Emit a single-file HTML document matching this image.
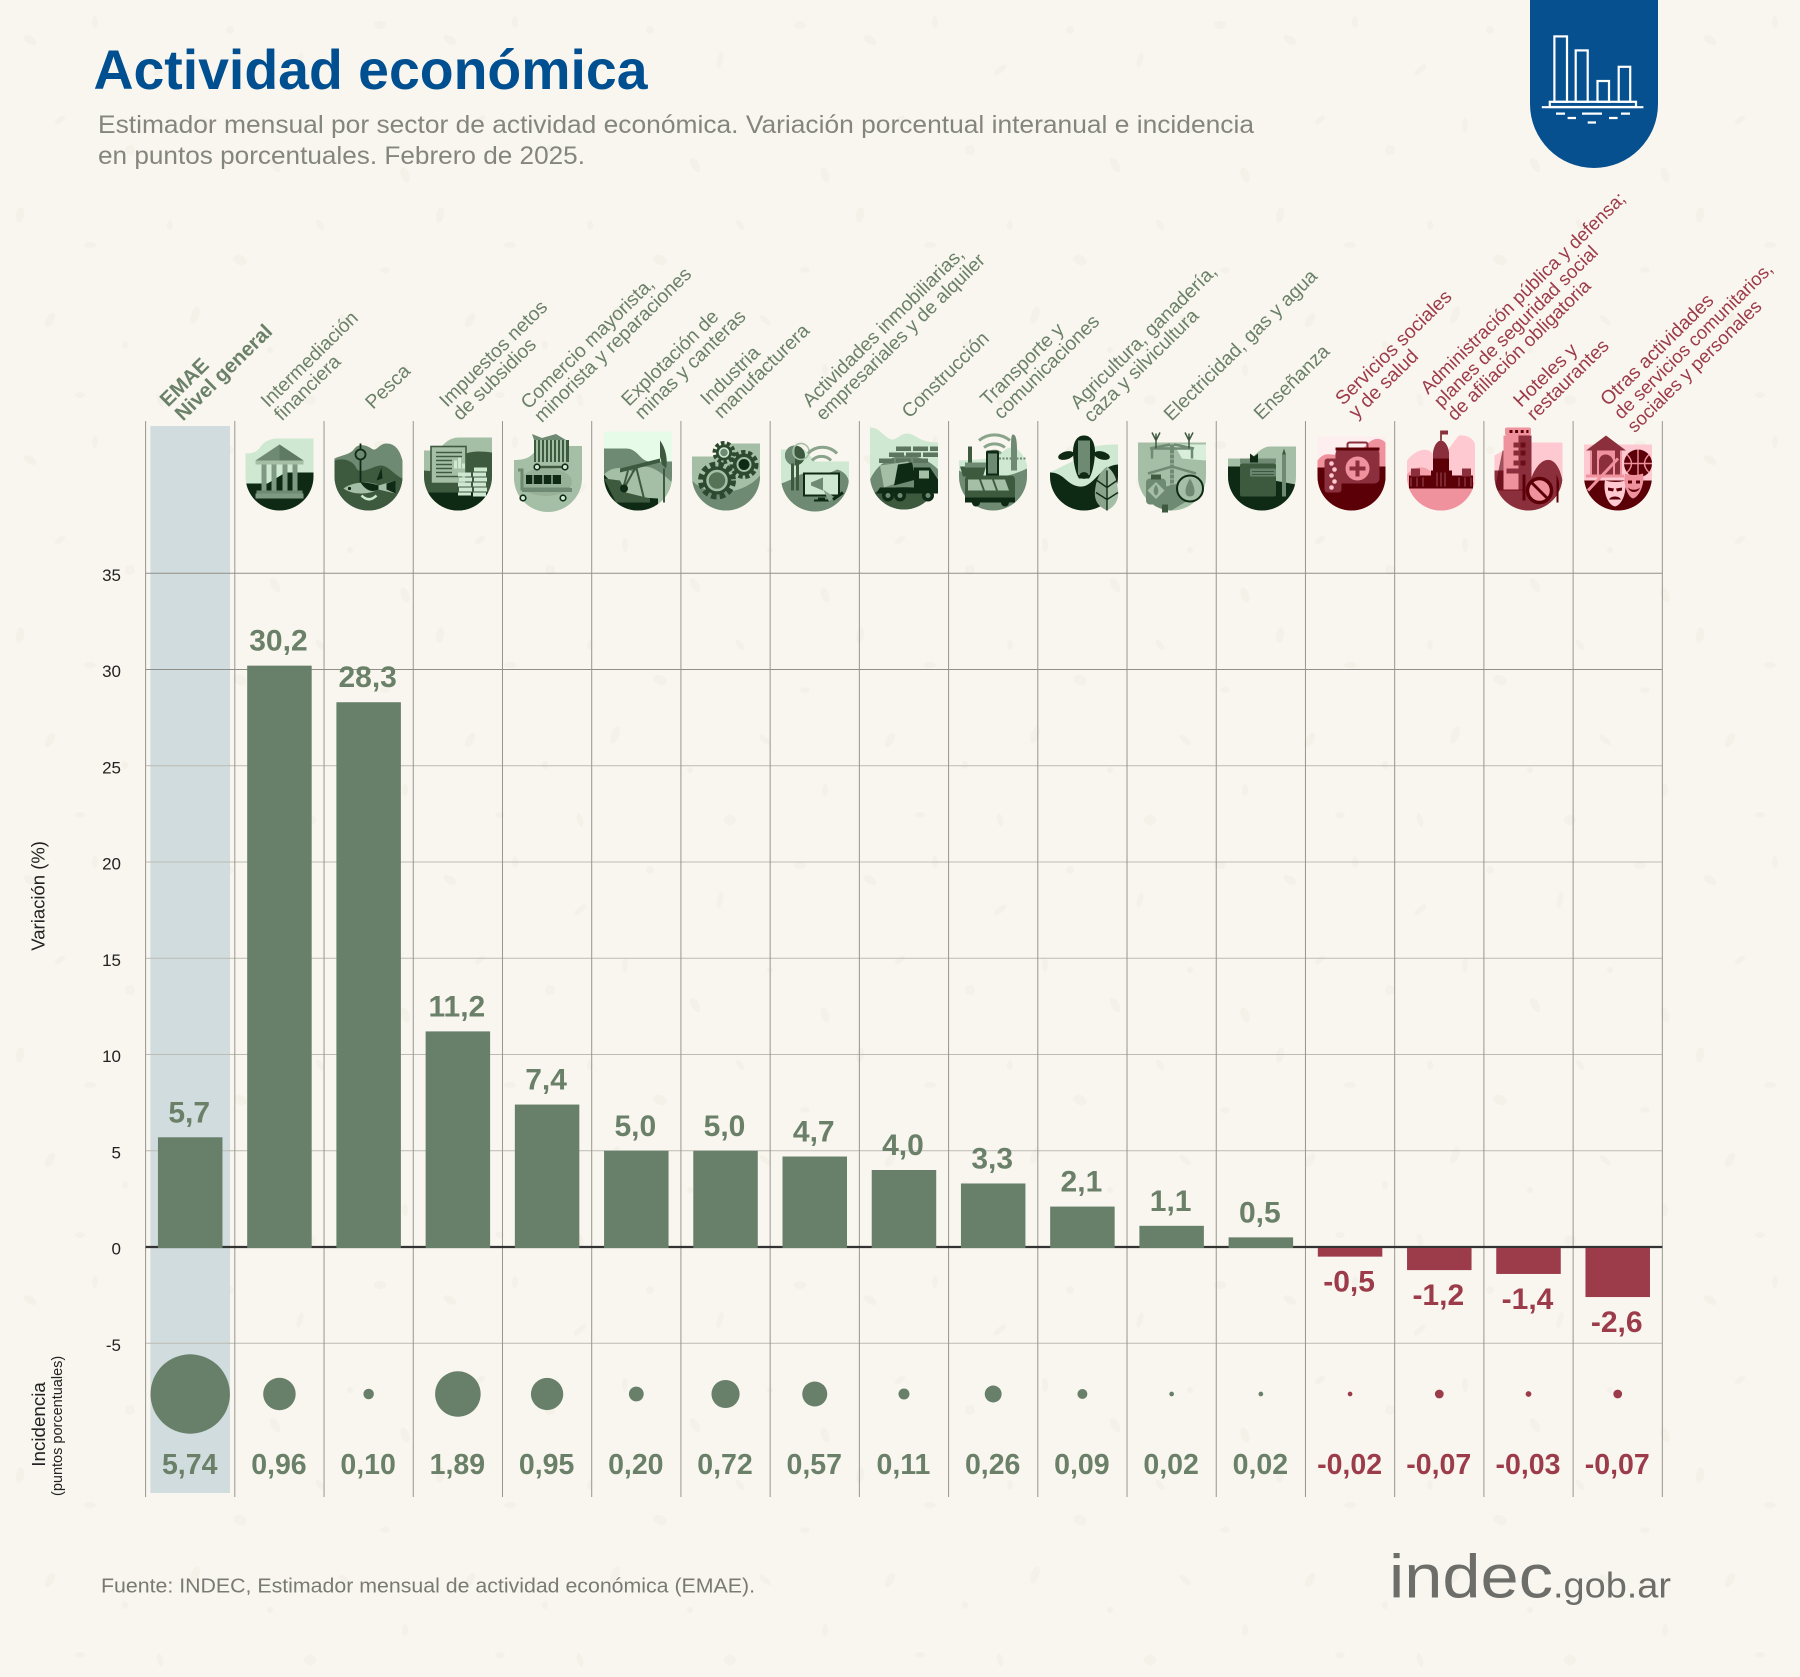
<!DOCTYPE html>
<html lang="es">
<head>
<meta charset="utf-8">
<title>Actividad económica</title>
<style>
html,body{margin:0;padding:0;background:#f9f6ef}
svg{display:block;font-family:"Liberation Sans",sans-serif}
.D{fill:#0f2a14}.d{fill:#3d5a3f}.m{fill:#6f8a72}.l{fill:#a5bfa6}.p{fill:#cfe8d2}.P{fill:#e6fbe8}
.rD{fill:#5c0008}.rd{fill:#8c2f3c}.rm{fill:#ef929e}.rl{fill:#ffc9d1}.rp{fill:#ffeef0}
.cat{font-size:19.4px;fill:#6a8068}
.catr{font-size:19.4px;fill:#9c3b4a}
</style>
</head>
<body>
<svg id="chart" xmlns="http://www.w3.org/2000/svg" width="1800" height="1677" viewBox="0 0 1800 1677">
<defs>
<clipPath id="shield"><path d="M-34,-100H34V-34A34,34 0 0 1 -34,-34Z"/></clipPath>
<pattern id="speckle" width="420" height="420" patternUnits="userSpaceOnUse">
<g fill="#f4f1e9">
<ellipse cx="30" cy="40" rx="7" ry="4" transform="rotate(30 30 40)"/><ellipse cx="95" cy="22" rx="3" ry="6"/>
<ellipse cx="160" cy="70" rx="8" ry="3" transform="rotate(-40 160 70)"/><ellipse cx="230" cy="30" rx="4" ry="4"/>
<ellipse cx="300" cy="60" rx="3" ry="8" transform="rotate(15 300 60)"/><ellipse cx="380" cy="25" rx="6" ry="4"/>
<ellipse cx="60" cy="120" rx="3" ry="6" transform="rotate(50 60 120)"/><ellipse cx="130" cy="150" rx="5" ry="5"/>
<ellipse cx="205" cy="125" rx="3" ry="7"/><ellipse cx="275" cy="165" rx="8" ry="4" transform="rotate(60 275 165)"/>
<ellipse cx="350" cy="130" rx="3" ry="3"/><ellipse cx="405" cy="175" rx="4" ry="8" transform="rotate(-20 405 175)"/>
<ellipse cx="20" cy="215" rx="4" ry="8" transform="rotate(10 20 215)"/><ellipse cx="90" cy="245" rx="6" ry="3"/>
<ellipse cx="170" cy="225" rx="3" ry="5"/><ellipse cx="240" cy="260" rx="7" ry="5" transform="rotate(25 240 260)"/>
<ellipse cx="320" cy="225" rx="3" ry="6" transform="rotate(-35 320 225)"/><ellipse cx="385" cy="270" rx="5" ry="3"/>
<ellipse cx="50" cy="320" rx="8" ry="4" transform="rotate(-60 50 320)"/><ellipse cx="125" cy="345" rx="3" ry="4"/>
<ellipse cx="195" cy="315" rx="4" ry="9" transform="rotate(20 195 315)"/><ellipse cx="270" cy="350" rx="3" ry="3"/>
<ellipse cx="345" cy="320" rx="7" ry="3" transform="rotate(40 345 320)"/><ellipse cx="405" cy="370" rx="3" ry="6"/>
<ellipse cx="80" cy="395" rx="5" ry="3"/><ellipse cx="160" cy="400" rx="3" ry="7" transform="rotate(-15 160 400)"/>
<ellipse cx="310" cy="400" rx="6" ry="5"/>
</g>
</pattern>
</defs>

<rect width="1800" height="1677" fill="#f9f6ef"/>
<rect width="1800" height="1677" fill="url(#speckle)"/>

<text x="93.5" y="89" font-size="55.4" font-weight="700" fill="#004f91" textLength="554" lengthAdjust="spacingAndGlyphs">Actividad económica</text>
<text x="98" y="133" font-size="25" fill="#85857f" textLength="1156" lengthAdjust="spacingAndGlyphs">Estimador mensual por sector de actividad económica. Variación porcentual interanual e incidencia</text>
<text x="98" y="164" font-size="25" fill="#85857f" textLength="487" lengthAdjust="spacingAndGlyphs">en puntos porcentuales. Febrero de 2025.</text>

<g>
<path d="M1530,0H1658V104A64,64 0 0 1 1530,104Z" fill="#07508f"/>
<g fill="none" stroke="#fff" stroke-width="2.2">
<rect x="1554.4" y="36.4" width="12.6" height="65.4"/>
<rect x="1575.7" y="50.4" width="12" height="51.4"/>
<rect x="1597.5" y="81" width="11.5" height="20.8"/>
<rect x="1618.7" y="66.8" width="11.5" height="35"/>
<rect x="1549.8" y="101.8" width="86.2" height="5.2"/>
<path d="M1541.8,107.2H1643.4M1556,113.6H1565M1582,113.6H1602M1621,113.6H1630M1567.6,118H1576M1609,118H1617.6M1587.7,122.5H1596"/>
</g>
</g>

<g id="marks-back"></g>

<g>
<g font-weight="700" font-size="20.4" fill="#6a8068">
<text transform="translate(168 407.7) rotate(-44.5)">EMAE</text>
<text transform="translate(183 421.7) rotate(-44.5)">Nivel general</text>
</g>
<g class="cat">
<text transform="translate(268.5 408.3) rotate(-44.5)">Intermediación</text>
<text transform="translate(281.9 421.7) rotate(-44.5)">financiera</text>
<text transform="translate(373 410) rotate(-44.5)">Pesca</text>
<text transform="translate(447 408) rotate(-44.5)">Impuestos netos</text>
<text transform="translate(460.4 421.4) rotate(-44.5)">de subsidios</text>
<text transform="translate(528.5 410) rotate(-44.5)">Comercio mayorista,</text>
<text transform="translate(541.9 423.4) rotate(-44.5)">minorista y reparaciones</text>
<text transform="translate(629 407) rotate(-44.5)">Explotación de</text>
<text transform="translate(642.4 420.4) rotate(-44.5)">minas y canteras</text>
<text transform="translate(708 406) rotate(-44.5)">Industria</text>
<text transform="translate(721.4 419.4) rotate(-44.5)">manufacturera</text>
<text transform="translate(810 408) rotate(-44.5)">Actividades inmobiliarias,</text>
<text style="font-size:19.1px" transform="translate(823.4 421.4) rotate(-44.5)">empresariales y de alquiler</text>
<text transform="translate(909.5 419) rotate(-44.5)">Construcción</text>
<text transform="translate(988 406.7) rotate(-44.5)">Transporte y</text>
<text transform="translate(1001.4 420.1) rotate(-44.5)">comunicaciones</text>
<text transform="translate(1078 410) rotate(-44.5)">Agricultura, ganadería,</text>
<text transform="translate(1091.4 423.4) rotate(-44.5)">caza y silvicultura</text>
<text transform="translate(1171.5 421.7) rotate(-44.5)">Electricidad, gas y agua</text>
<text transform="translate(1261.5 420.7) rotate(-44.5)">Enseñanza</text>
</g>
<g class="catr">
<text transform="translate(1343 406) rotate(-44.5)">Servicios sociales</text>
<text transform="translate(1356.4 419.4) rotate(-44.5)">y de salud</text>
<text style="font-size:18.7px" transform="translate(1428 395) rotate(-44.5)">Administración pública y defensa;</text>
<text style="font-size:18.7px" transform="translate(1441.4 408.4) rotate(-44.5)">planes de seguridad social</text>
<text style="font-size:18.9px" transform="translate(1454.8 421.8) rotate(-44.5)">de afiliación obligatoria</text>
<text transform="translate(1521 408) rotate(-44.5)">Hoteles y</text>
<text style="font-size:19.1px" transform="translate(1534.4 421.4) rotate(-44.5)">restaurantes</text>
<text transform="translate(1608 406.7) rotate(-44.5)">Otras actividades</text>
<text style="font-size:18.6px" transform="translate(1621.4 420.1) rotate(-44.5)">de servicios comunitarios,</text>
<text style="font-size:18.8px" transform="translate(1634.8 433.5) rotate(-44.5)">sociales y personales</text>
</g>
</g>

<g>
<!-- bank -->
<g transform="translate(279.5 510.5)">
<g clip-path="url(#shield)"><path class="p" d="M-34,-57C-24,-57-22,-60-18,-65C-14,-70-8,-72-2,-72H34V0H-34Z"/><path class="D" d="M-34,-27H-12L6,-38H34V0H-34Z"/></g>
<path class="m" d="M-24,-50L0,-66L24,-50Z"/><path fill="#5f7a62" d="M0,-66L24,-50H0Z"/>
<rect class="l" x="-24" y="-50" width="48" height="4"/>
<g fill="#7f9a82"><rect x="-18" y="-46" width="5" height="26"/><rect x="-8" y="-46" width="5" height="26"/><rect x="3" y="-46" width="5" height="26"/><rect x="13" y="-46" width="5" height="26"/></g>
<rect class="m" x="-23" y="-20" width="46" height="3"/><rect fill="#7f9a82" x="-24" y="-17" width="48" height="5"/>
</g>
<!-- fish -->
<g transform="translate(368.5 510.5)">
<g clip-path="url(#shield)"><path class="m" d="M-34,-52C-25,-56-18,-56-14,-62C-10,-67-3,-66,3,-62C8,-58,10,-67,18,-67C28,-67,32,-58,34,-50V0H-34Z"/>
<path class="d" d="M-34,-50C-25,-53-15,-50-12,-42C-8,-35,5,-45,12,-45C20,-45,25,-36,34,-32V0H-34Z"/></g>
<g fill="none" stroke="#0f2a14" stroke-width="1.8"><circle cx="-8" cy="-56" r="5"/><path d="M-8,-67V-61M-8,-51V-28"/></g>
<path class="l" d="M-25,-22C-15,-30,5,-29,10,-25L27,-30V-17L10,-21C0,-16-15,-15-25,-22Z"/>
<path class="D" d="M-8,-28C-2,-28,5,-27,10,-25V-21C4,-18-2,-19-8,-28ZM18,-27L27,-30V-17L18,-21Z"/>
<path class="D" d="M8,-30L13,-43L14,-32Z"/><path fill="none" stroke="#cfe8d2" stroke-width="2.5" d="M-7,-15C-2,-10,3,-10,8,-15"/>
<circle class="D" cx="-19" cy="-22" r="1.6"/>
</g>
<!-- newspaper -->
<g transform="translate(458 510.5)">
<g clip-path="url(#shield)"><path class="l" d="M-34,-60H-25C-15,-60-15,-72,0,-73H34V0H-34Z"/>
<path class="d" d="M-34,-40C-20,-38-5,-42,0,-50C5,-60,20-60,34,-58V0H-34Z"/><rect class="D" x="-34" y="-18" width="68" height="20"/></g>
<rect class="l" x="-27" y="-64" width="35" height="37" stroke="#3d5a3f" stroke-width="1.6"/>
<path stroke="#3d5a3f" stroke-width="1.6" d="M-22,-58H4M-22,-54H4M-22,-50H-6M-22,-46H-6M-22,-42H-6M-22,-38H-6M-22,-34H4"/>
<rect class="p" x="-4" y="-50" width="3" height="8"/><rect class="p" x="0" y="-53" width="3" height="11"/><rect class="p" x="4" y="-47" width="3" height="5"/>
<g class="p"><rect x="0" y="-38" width="13" height="4"/><rect x="1" y="-33" width="13" height="4"/><rect x="0" y="-28" width="13" height="4"/><rect x="1" y="-23" width="13" height="4"/><rect x="0" y="-18" width="13" height="3"/>
<rect x="16" y="-43" width="13" height="4"/><rect x="15" y="-38" width="13" height="4"/><rect x="16" y="-33" width="13" height="4"/><rect x="15" y="-28" width="13" height="4"/><rect x="16" y="-23" width="13" height="4"/><rect x="15" y="-18" width="13" height="4"/></g>
</g>
<!-- carts -->
<g transform="translate(548 512)">
<g clip-path="url(#shield)"><path class="l" d="M-34,-52C-22,-52-17,-55-12,-62L-5,-66H34V0H-34Z"/><ellipse cx="-2" cy="-30" rx="26" ry="14" fill="#8aa48c" opacity=".5"/></g>
<rect class="d" x="-14" y="-72" width="35" height="22"/>
<path stroke="#cfe8d2" stroke-width="1.4" d="M-11,-72V-50M-7,-72V-50M-3,-72V-50M1,-72V-50M5,-72V-50M9,-72V-50M13,-72V-50M17,-72V-50"/>
<path class="m" d="M-16,-78L-6,-74L8,-78L18,-72H-14Z"/>
<path fill="none" stroke="#3d5a3f" stroke-width="2.4" d="M-13,-45H17"/><circle cx="-11" cy="-45" r="2.8" fill="#cfe8d2" stroke="#0f2a14" stroke-width="1.6"/><circle cx="17" cy="-45" r="2.8" fill="#cfe8d2" stroke="#0f2a14" stroke-width="1.6"/>
<rect class="D" x="-22" y="-37" width="35" height="9"/><path stroke="#cfe8d2" stroke-width="1" d="M-15,-37V-28M-5,-37V-28M4,-37V-28"/>
<path fill="none" stroke="#6f8a72" stroke-width="3" d="M-30,-42H-26V-23H22"/><path stroke="#6f8a72" stroke-width="4" d="M-26,-22H24"/>
<circle cx="-25" cy="-14" r="2.8" fill="#cfe8d2" stroke="#0f2a14" stroke-width="1.6"/><circle cx="15" cy="-14" r="2.8" fill="#cfe8d2" stroke="#0f2a14" stroke-width="1.6"/>
</g>
<!-- oil pump -->
<g transform="translate(638 510.5)">
<g clip-path="url(#shield)"><rect class="P" x="-34" y="-79" width="68" height="80"/><path class="m" d="M-34,-62H-12C0,-62,2,-49,12,-49H34V0H-34Z"/><path class="l" d="M-34,-36C-22,-48,-8,-40,-4,-38C5,-50,20-42,34-28V0H-34Z"/><path class="D" d="M-34,-36L-14,-14L20,-12V2H-34Z"/></g>
<path class="d" d="M-18,-42L22,-52V-48L-18,-38Z"/><path class="d" d="M22,-70C28,-62,30,-50,28,-42L24,-46L22,-54Z"/>
<path stroke="#3d5a3f" stroke-width="2" fill="none" d="M-10,-40L-16,-18M-2,-44L-14,-22M-2,-44L6,-12M26,-42V-8"/>
<path class="d" d="M-34,-32L-18,-30L-12,-18L12,-12V-8H-22Z"/><circle class="D" cx="-14" cy="-22" r="4"/>
</g>
<!-- gears -->
<g transform="translate(726 510.5)">
<g clip-path="url(#shield)"><path class="l" d="M-34,-54H-5V-67H34V0H-34Z"/><path class="m" d="M-34,-30C-15,-10,20-18,34-35V0H-34Z"/></g>
<g fill="none" stroke="#2d4a30"><circle cx="-9" cy="-30" r="15" stroke-width="8" stroke-dasharray="5 3"/><circle cx="18" cy="-46" r="11.5" stroke-width="6" stroke-dasharray="4 2.4"/><circle cx="-2" cy="-58" r="9" stroke-width="5" stroke-dasharray="3.4 2.2"/></g>
<circle cx="-9" cy="-30" r="14" fill="#2d4a30"/><circle cx="-9" cy="-30" r="9.5" fill="#567358" stroke="#a5bfa6" stroke-width="2.5"/>
<circle cx="18" cy="-46" r="11" fill="#2d4a30"/><circle cx="18" cy="-46" r="6.5" fill="#0f2a14" stroke="#a5bfa6" stroke-width="2"/>
<circle cx="-2" cy="-58" r="8" fill="#2d4a30"/><circle cx="-2" cy="-58" r="4.5" fill="#6f8a72" stroke="#cfe8d2" stroke-width="1.6"/>
</g>
<!-- key monitor -->
<g transform="translate(815 511.5)">
<g clip-path="url(#shield)"><path class="p" d="M-34,-62H-10L0,-50H34V0H-34Z"/><path class="m" d="M-34,-28C-20,-32-15,-40,-5,-38C5,-36,15-38,22-42C30-40,34-34,34-28V0H-34Z"/></g>
<circle cx="-20" cy="-56" r="10" class="d"/><path class="m" d="M-20,-66A10,10 0 0 0-20,-46Z"/><rect class="d" x="-24" y="-48" width="3" height="27"/><rect class="d" x="-19" y="-48" width="3" height="27"/>
<circle cx="-14" cy="-60" r="8" fill="none" stroke="#a5bfa6" stroke-width="1.6"/>
<g fill="none" stroke="#8aa48c" stroke-width="3"><path d="M-3,-51A13,13 0 0 1 16,-51"/><path d="M-7,-58A20,20 0 0 1 22,-58"/></g>
<rect x="-11" y="-38" width="35" height="22" fill="#cfe8d2" stroke="#0f2a14" stroke-width="2"/>
<path class="m" d="M-4,-29L8,-34V-21L-4,-26Z"/><rect class="D" x="3" y="-14" width="7" height="3"/><rect class="D" x="-1" y="-12" width="15" height="2"/>
<path fill="#8aa48c" d="M8,-22L20,-14L14,-10Z"/><path stroke="#0f2a14" stroke-width="3" d="M18,-12L28,-19"/>
</g>
<!-- truck -->
<g transform="translate(904 509.5)">
<g clip-path="url(#shield)"><path class="p" d="M-34,-82C-25,-82-22,-75-15,-71C-8,-67-5,-76,3,-76C12,-76,14,-67,34,-67V0H-34Z"/><path class="m" d="M-34,-30C-20,-60,15-60,34,-40V0H-34Z"/><path class="d" d="M-34,-15C-15,-25,15-25,34,-15V2H-34Z"/></g>
<g fill="#5c755f"><rect x="-8" y="-63" width="15" height="4.5"/><rect x="9" y="-63" width="15" height="4.5"/><rect x="26" y="-63" width="8" height="4.5"/><rect x="-15" y="-57" width="15" height="4.5"/><rect x="2" y="-57" width="15" height="4.5"/><rect x="19" y="-57" width="15" height="4.5"/><rect x="-25" y="-51" width="15" height="4.5"/><rect x="-8" y="-51" width="15" height="4.5"/><rect x="9" y="-51" width="15" height="4.5"/></g>
<path class="l" d="M-24,-44L4,-48L14,-34L-20,-22Z"/><path class="D" d="M-6,-45L8,-47L12,-30L-10,-24Z"/>
<path class="D" d="M10,-42H26L34,-30V-16H-28L-24,-22H10Z"/><rect class="l" x="15" y="-39" width="10" height="8"/>
<g class="D"><circle cx="-16" cy="-14" r="6"/><circle cx="-4" cy="-14" r="6"/><circle cx="24" cy="-14" r="6"/></g><g class="m"><circle cx="-16" cy="-14" r="2.5"/><circle cx="-4" cy="-14" r="2.5"/><circle cx="24" cy="-14" r="2.5"/></g>
</g>
<!-- transport -->
<g transform="translate(993 510.5)">
<g clip-path="url(#shield)"><path class="p" d="M-34,-36V-50L0,-52L14,-62C22,-66,30,-58,34,-46V0H-34Z"/><path class="m" d="M-34,-40C-20,-30,10-30,34,-42V0H-34Z"/><path class="l" d="M-34,-12C-15,5,15,5,34,-12V2H-34Z"/></g>
<g fill="none" stroke="#8aa48c" stroke-width="3"><path d="M-5,-57A10,10 0 0 1 8,-57"/><path d="M-9,-63A17,17 0 0 1 12,-63"/><path d="M-14,-70A24,24 0 0 1 17,-70"/></g>
<rect class="d" x="-25" y="-64" width="4" height="20"/><path class="d" d="M-33,-44H-7L-10,-34H-30Z"/><rect x="-28" y="-48" width="21" height="5" class="m"/>
<path class="m" d="M20,-76C23,-76,24,-70,24,-60V-40H18V-60C18,-70,18,-76,20,-76Z"/><path d="M6,-52L34,-52" stroke="#6f8a72" stroke-width="2" stroke-dasharray="2 1.5"/>
<rect x="-7" y="-60" width="13" height="27" rx="2" class="D"/><rect x="-5" y="-57" width="9" height="20" class="m"/>
<rect x="-28" y="-35" width="50" height="27" rx="4" class="d"/><g class="l"><path d="M-25,-31H-14L-10,-20H-25Z"/><path d="M-12,-31H-1L3,-20H-8Z"/><path d="M1,-31H12L16,-20H5Z"/></g><rect class="D" x="-28" y="-13" width="50" height="5"/>
<circle class="D" cx="-17" cy="-8" r="4"/><circle class="D" cx="12" cy="-8" r="4"/>
</g>
<!-- cow wheat -->
<g transform="translate(1084 510.5)">
<g clip-path="url(#shield)"><path class="p" d="M-34,-38L-10,-50L5,-62C15,-66,25-66,34,-66V0H-34Z"/><path class="D" d="M-34,-38C-20,-38-18,-26,-5,-24C10,-22,15-45,34-46V2H-34Z"/></g>
<ellipse class="D" cx="-18" cy="-55" rx="8" ry="4" transform="rotate(-15 -18 -55)"/><ellipse class="D" cx="18" cy="-55" rx="8" ry="4" transform="rotate(15 18 -55)"/>
<path class="D" d="M-11,-60C-10,-74-3,-75,0,-75C3,-75,10,-74,11,-60C11,-48,8,-36,5,-32H-5C-8,-36-11,-48-11,-60Z"/>
<path class="m" d="M-6,-70H6C6,-54,6,-42,6,-36C2,-34-2,-34-6,-36C-6,-42-6,-54-6,-70Z"/><ellipse class="D" cx="0" cy="-35" rx="4.6" ry="3.4"/>
<path fill="#8aa48c" d="M23,-44C15,-38,12,-30,11,-20C10,-10,14,-4,23,0Z"/><path fill="#a5bfa6" d="M23,-44C31,-38,33,-30,34,-20C35,-10,31,-4,23,0Z"/>
<path stroke="#0f2a14" stroke-width="1.4" fill="none" d="M23,-40V0M13,-30L23,-23L33,-30M12,-18L23,-11L34,-18"/>
</g>
<!-- power -->
<g transform="translate(1172 510.5)">
<g clip-path="url(#shield)"><rect class="l" x="-34" y="-68" width="68" height="70"/><path class="P" d="M2,-66H34V-50L10,-52Z" opacity=".8"/><path class="m" d="M-14,-22L10,-28L16,-10L-4,2H-20Z"/></g>
<path stroke="#6f8a72" stroke-width="2.5" fill="none" d="M-20,-52V-62H20V-52M-2,-66L-22,-62M2,-66L22,-62"/>
<path stroke="#3d5a3f" stroke-width="1.5" fill="none" d="M-16,-77L-16,-69M-20,-78L-16,-70L-12,-78M17,-77V-69M13,-78L17,-70L21,-78M-16,-69V-62M17,-69V-62"/>
<path stroke="#6f8a72" stroke-width="4" stroke-dasharray="4 1" d="M0,-66V-22"/><path stroke="#6f8a72" stroke-width="2.5" fill="none" d="M-24,-37L0,-44L24,-37"/>
<rect class="m" x="-26" y="-32" width="20" height="26" rx="4"/><rect class="d" x="-21" y="-36" width="10" height="5"/><rect class="l" x="-22" y="-26" width="12" height="12" transform="rotate(45 -16 -20)"/><path class="m" d="M-16,-26C-12,-20-14,-16-16,-15C-18,-16-20,-20-16,-26Z"/>
<circle cx="18" cy="-22" r="13" class="l" stroke="#0f2a14" stroke-width="2"/><path class="m" d="M18,-32C24,-22,24,-14,18,-14C12,-14,12,-22,18,-32Z"/>
<path class="d" d="M-10,-6H-4V2H-10Z"/>
</g>
<!-- book -->
<g transform="translate(1262 510.5)">
<g clip-path="url(#shield)"><path class="l" d="M-34,-52H-14C-8,-52-2,-64,8,-64H34V0H-34Z"/><path class="D" d="M-34,-44H-12L12,-30L34,-26V2H-34Z"/></g>
<rect class="m" x="-22" y="-52" width="36" height="5"/><rect class="d" x="-22" y="-47" width="36" height="33" rx="2"/>
<path class="D" d="M-12,-57L-8,-54L-4,-57V-48H-12Z"/><rect class="m" x="-12" y="-42" width="26" height="8" rx="1" fill-opacity=".9"/><path stroke="#3d5a3f" stroke-width="1" d="M-10,-39H12M-10,-36H12"/>
<rect class="m" x="20" y="-56" width="4" height="42"/><path class="d" d="M20,-56L22,-62L24,-56Z"/>
</g>
<!-- medical -->
<g transform="translate(1351.5 510.5)">
<g clip-path="url(#shield)"><rect class="rp" x="-34" y="-74" width="68" height="70"/><path class="rm" d="M-34,-50C-25,-62-18,-52-10,-58C0,-62,8-56,15-66C25-76,32-70,34,-68V0H-34Z"/><rect class="rD" x="-34" y="-43" width="68" height="44"/><path class="rD" d="M10,-44H34V-30H10Z"/></g>
<rect class="rd" x="-16" y="-62" width="44" height="35" rx="5"/><rect x="-4" y="-68" width="20" height="7" rx="2" fill="none" stroke="#8c2f3c" stroke-width="2"/>
<rect class="rD" x="-16" y="-63" width="44" height="3"/><circle class="rm" cx="6" cy="-42" r="12"/><path fill="#8c2f3c" d="M4,-50H8V-44H14V-40H8V-34H4V-40H-2V-44H4Z"/>
<rect class="rd" x="-27" y="-52" width="17" height="34" rx="3"/><g class="rl"><circle cx="-20" cy="-47" r="2.3"/><circle cx="-17" cy="-41" r="2.3"/><circle cx="-20" cy="-35" r="2.3"/><circle cx="-17" cy="-29" r="2.3"/><circle cx="-20" cy="-23" r="2.3"/></g>
</g>
<!-- congress -->
<g transform="translate(1441 510.5)">
<g clip-path="url(#shield)"><path class="rl" d="M-34,-50C-25,-62-12,-64-8,-56C5,-52,8-64,18-75C28-76,34-70,34-65V0H-34Z"/><path class="rm" d="M-34,-36C-24,-48-10,-44,-6,-32L18,-30L34,-28V0H-34Z" opacity=".75"/><rect class="rm" x="-34" y="-23" width="68" height="24"/></g>
<rect class="rD" x="-32" y="-35" width="64" height="13"/><rect class="rd" x="-30" y="-42" width="9" height="8"/><rect class="rd" x="21" y="-42" width="9" height="8"/>
<rect class="rD" x="-10" y="-40" width="21" height="18"/><path class="rd" d="M-8,-58C-7,-66-3,-70,0,-70C3,-70,7,-66,8,-58V-52H-8Z"/><rect class="rD" x="-8" y="-52" width="16" height="12"/>
<path stroke="#5c0008" stroke-width="1.4" d="M0,-70V-80"/><rect class="rd" x="0" y="-80" width="7" height="4"/>
<path stroke="#f9c3cc" stroke-width="1" d="M-30,-33V-24M-24,-33V-24M-18,-33V-24M-4,-38V-24M0,-38V-24M4,-38V-24M18,-33V-24M24,-33V-24M30,-33V-24" opacity=".4"/>
</g>
<!-- hotel -->
<g transform="translate(1528.5 510.5)">
<g clip-path="url(#shield)"><path class="rl" d="M-34,-55L-10,-68H34V-30H-34Z"/><path class="rd" d="M-34,-40H-4L2,-30C10-55,28-60,34-30V2H-34Z"/><path class="rD" d="M-26,-60C-14,-60-6,-55-4,-40V-20L-34,-20Z" opacity=".6"/></g>
<rect class="rm" x="-25" y="-75" width="28" height="54"/><rect class="rd" x="-10" y="-75" width="13" height="54"/>
<rect class="rm" x="-23.5" y="-83" width="26" height="8" rx="2"/><path stroke="#5c0008" stroke-width="3" stroke-dasharray="3 2.6" d="M-19,-79H0"/>
<g class="rD" opacity=".7"><rect x="-15" y="-68" width="5" height="5"/><rect x="-8" y="-68" width="5" height="5"/><rect x="-15" y="-60" width="5" height="5"/><rect x="-8" y="-60" width="5" height="5"/><rect x="-15" y="-50" width="5" height="5"/><rect x="-8" y="-50" width="5" height="5"/></g>
<rect class="rd" x="-22" y="-42" width="24" height="5"/>
<circle cx="11" cy="-20" r="12" fill="#ef929e" stroke="#5c0008" stroke-width="3.5"/><path stroke="#5c0008" stroke-width="3" d="M3,-28L19,-12"/>
<path class="rD" d="M-6,-36H-3V-10H-6Z"/><path class="rD" d="M28,-36C31,-30,31,-24,30,-20V-8H28Z"/>
</g>
<!-- theatre -->
<g transform="translate(1618 510.5)">
<g clip-path="url(#shield)"><rect class="rl" x="-34" y="-66" width="68" height="44"/><path class="rD" d="M-34,-30H34V2H-34Z"/></g>
<path class="rd" d="M-32,-60L-12,-75L8,-60Z"/><rect class="rm" x="-28" y="-60" width="32" height="24"/><path class="rd" d="M-26,-60H-21V-36H-26ZM-3,-60H2V-36H-3Z"/><path class="rd" d="M-19,-36V-50C-18,-58-7,-58-5,-50V-36Z"/>
<rect class="rm" x="-32" y="-36" width="38" height="3"/><path stroke="#ef929e" stroke-width="3" d="M-30,-20L0,-52"/>
<circle class="rD" cx="20" cy="-47" r="14"/><path fill="none" stroke="#ef929e" stroke-width="1.4" d="M6,-47H34M20,-61V-33M9,-56C15,-50,15,-44,9,-38M31,-56C25,-50,25,-44,31,-38"/>
<path class="rl" d="M-13,-30C-6,-28,2,-28,7,-30C9,-20,5,-6,-3,-4C-11,-6,-15,-20,-13,-30Z"/><path class="rD" d="M-10,-23L-4,-22L-5,-19L-10,-20ZM4,-23L-2,-22L-1,-19L4,-20ZM-9,-11C-7,-15,1,-15,3,-11Z"/>
<path class="rm" d="M7,-37C13,-35,19,-35,25,-37C27,-28,22,-14,15,-12C9,-14,5,-28,7,-37Z"/><path class="rD" d="M10,-30H14V-27H10ZM18,-30H22V-27H18ZM10,-23C13,-20,19,-20,22,-23C20,-17,12,-17,10,-23Z"/>
</g>
</g>

<g id="marks-front"></g>

<g>
<text transform="translate(44.7 950.7) rotate(-90)" font-size="18.5" fill="#222">Variación (%)</text>
<text transform="translate(44.8 1466.7) rotate(-90)" font-size="18.8" fill="#222">Incidencia</text>
<text transform="translate(62 1496) rotate(-90)" font-size="14.5" fill="#222">(puntos porcentuales)</text>
</g>

<text x="101" y="1592.7" font-size="20" fill="#7a7a75" textLength="654" lengthAdjust="spacingAndGlyphs">Fuente: INDEC, Estimador mensual de actividad económica (EMAE).</text>
<g fill="#6d6d6a">
<text x="1389" y="1597.7" font-size="61" textLength="164" lengthAdjust="spacingAndGlyphs">indec</text>
<text x="1553" y="1597.7" font-size="36" textLength="118" lengthAdjust="spacingAndGlyphs">.gob.ar</text>
</g>
</svg>

<script>
const categories = ['emae','intermediacion','pesca','impuestos','comercio','explotacion','industria','actividades','construccion','transporte','agricultura','electricidad','ensenanza','servicios-sociales','administracion','hoteles','otras-actividades'];
const variation = [5.7,30.2,28.3,11.2,7.4,5.0,5.0,4.7,4.0,3.3,2.1,1.1,0.5,-0.5,-1.2,-1.4,-2.6];
const incidence = [5.74,0.96,0.10,1.89,0.95,0.20,0.72,0.57,0.11,0.26,0.09,0.02,0.02,-0.02,-0.07,-0.03,-0.07];
const yTicks = [35,30,25,20,15,10,5,0,-5];

const NS = 'http://www.w3.org/2000/svg';
const GREEN = '#68806a', RED = '#9c3b4a';
const X0 = 145.6, STEP = 89.22, Y0 = 1247, PX_PER_UNIT = 19.25;
const xLine = i => X0 + STEP * i;
const xCenter = i => X0 + STEP * (i + 0.5);
const yScale = v => Y0 - v * PX_PER_UNIT;
const rScale = v => 16.57 * Math.sqrt(Math.abs(v));
const fmt = (v, d) => v.toFixed(d).replace('.', ',');

function make(tag, attrs, parent, text) {
  const el = document.createElementNS(NS, tag);
  for (const k in attrs) el.setAttribute(k, attrs[k]);
  if (text !== undefined) el.textContent = text;
  parent.appendChild(el);
  return el;
}
const back = document.getElementById('marks-back');
const front = document.getElementById('marks-front');

const band = make('rect', {x: xLine(0) + 4.8, y: 426, width: 79.6, height: 1067, fill: '#d0dcdd'}, back);



yTicks.forEach(t => {
  if (t !== 0) {
    const g = make('line', {x1: xLine(0), x2: xLine(categories.length), y1: yScale(t), y2: yScale(t), stroke: t >= 30 ? '#8f8f8a' : '#bcbcb4', 'stroke-width': 1}, back);
    
    
  }
  const lab = make('text', {x: 121, y: yScale(t) + 7.5, 'text-anchor': 'end', 'font-size': 17, fill: '#222'}, back, String(t));
  
  
});

for (let i = 0; i <= categories.length; i++) {
  const v = make('line', {x1: xLine(i), x2: xLine(i), y1: 421, y2: 1497, stroke: '#96968f', 'stroke-width': 1}, back);
  
  
}

const zero = make('line', {x1: xLine(0), x2: xLine(categories.length), y1: Y0, y2: Y0, stroke: '#333', 'stroke-width': 2.2}, front);



variation.forEach((v, i) => {
  const color = v < 0 ? RED : GREEN;
  const top = v < 0 ? Y0 + 1 : yScale(v);
  const h = v < 0 ? yScale(v) - Y0 - 1 : Y0 + 1 - yScale(v);
  const bar = make('rect', {x: xCenter(i) - 32.25, y: top, width: 64.5, height: h, fill: color}, front);
  
  
  const ly = v < 0 ? yScale(v) + 35 : yScale(v) - 15;
  const lab = make('text', {x: xCenter(i) - 1, y: ly, 'text-anchor': 'middle', 'font-size': 30, 'font-weight': 700, fill: v < 0 ? RED : '#6a8068'}, front, fmt(v, 1));
  
  
});

incidence.forEach((v, i) => {
  const color = v < 0 ? RED : GREEN;
  const c = make('circle', {cx: xCenter(i), cy: 1394, r: rScale(v), fill: color}, front);
  
  
  const lab = make('text', {x: xCenter(i) - 0.5, y: 1474, 'text-anchor': 'middle', 'font-size': 28.5, 'font-weight': 700, fill: v < 0 ? RED : '#6a8068'}, front, fmt(v, 2));
  
  
});
</script>
</body>
</html>
